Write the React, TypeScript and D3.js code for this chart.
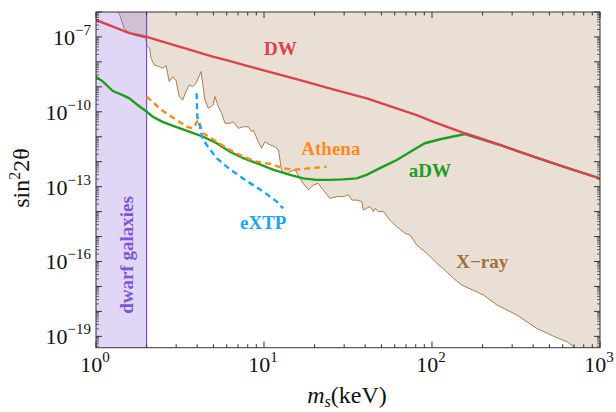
import React from "react";
import * as d3 from "d3";

// sterile neutrino mass (keV) and log10(sin^2 2theta)
const massDW = [1, 1.26, 1.58, 1.98, 2.49, 3.13, 3.94, 4.95, 6.22, 7.83, 16.4, 25.8, 40.9, 81.1, 102, 157, 254, 402, 631, 1000];
const logMixDW = [-6.32, -6.59, -6.85, -6.99, -7.19, -7.39, -7.59, -7.79, -7.96, -8.15, -8.73, -9.1, -9.46, -10.13, -10.4, -10.86, -11.33, -11.8, -12.24, -12.67];

const massADW = [1, 1.1, 1.26, 1.44, 1.58, 1.77, 1.98, 2.18, 2.49, 2.99, 3.76, 4.35, 5.23, 6.28, 7.53, 9.05, 11.4, 14.3, 17.1, 20.6, 24.7, 29.6, 35.6, 40.8, 49.0, 61.7, 77.4, 90.8, 112, 157, 254, 402, 631, 1000];
const logMixADW = [-8.59, -8.79, -9.17, -9.33, -9.46, -9.73, -9.97, -10.2, -10.4, -10.6, -10.84, -11.0, -11.26, -11.6, -11.86, -12.06, -12.33, -12.53, -12.67, -12.73, -12.73, -12.71, -12.67, -12.53, -12.26, -11.93, -11.53, -11.26, -11.1, -10.89, -11.33, -11.8, -12.24, -12.67];

const massAthena = [2.0, 2.46, 3.02, 3.47, 3.78, 4.06, 4.35, 5.23, 6.28, 7.53, 9.05, 10.9, 13.0, 14.9, 17.1, 20.6, 23.6];
const logMixAthena = [-9.39, -9.93, -10.33, -10.6, -10.66, -10.33, -10.86, -11.2, -11.53, -11.8, -12.0, -12.09, -12.26, -12.33, -12.29, -12.24, -12.2];

const massEXTP = [3.97, 4.01, 4.16, 4.27, 4.56, 5.23, 6.28, 7.89, 9.91, 11.9, 13.0];
const logMixEXTP = [-9.26, -10.2, -10.6, -11.01, -11.33, -11.86, -12.31, -12.77, -13.2, -13.6, -13.87];

const massXray = [1.35, 1.38, 1.47, 1.58, 1.73, 1.98, 2.0, 2.08, 2.13, 2.22, 2.38, 2.49, 2.61, 2.73, 2.86, 2.99, 3.13, 3.28, 3.43, 3.59, 3.76, 3.94, 4.22, 4.45, 4.66, 4.99, 5.11, 5.35, 5.6, 5.86, 6.28, 6.57, 7.03, 7.53, 8.07, 8.45, 8.64, 9.25, 9.69, 10.1, 10.9, 11.6, 12.2, 12.7, 13.6, 14.3, 15.3, 17.1, 18.4, 19.7, 21.0, 22.5, 24.7, 27.1, 29.6, 31.8, 33.3, 35.6, 38.2, 39.0, 40.8, 42.8, 44.8, 45.8, 47.9, 51.3, 56.2, 61.7, 69.1, 74.0, 81.1, 93.0, 107, 122, 134, 150, 202, 243, 319, 420, 527, 634, 710];
const logMixXray = [-6.0, -6.09, -6.65, -6.85, -6.95, -7.05, -7.32, -7.45, -7.86, -8.12, -8.19, -8.26, -8.15, -8.79, -8.59, -8.73, -9.39, -9.53, -9.19, -8.93, -8.99, -8.86, -8.39, -9.53, -9.86, -9.73, -9.39, -9.8, -10.06, -10.46, -10.46, -10.4, -10.66, -10.6, -10.6, -10.8, -10.73, -11.2, -11.46, -11.2, -11.33, -11.4, -11.53, -12.33, -12.53, -12.4, -12.33, -12.87, -13.13, -12.93, -12.87, -13.13, -13.47, -13.4, -13.4, -13.33, -13.54, -13.54, -13.6, -13.94, -13.87, -13.8, -14.0, -13.87, -14.0, -14.0, -14.34, -14.61, -14.87, -14.94, -15.34, -15.67, -16.07, -16.41, -16.67, -16.94, -17.34, -17.74, -18.14, -18.68, -18.99, -19.21, -19.46];

const dwarfMass = [1, 2];
const xTickExp = [0, 1, 2, 3];
const yTickExp = [-19, -16, -13, -10, -7];

const W = 616, H = 412;
const left = 96, right = 600, top = 12, bottom = 347.7;
const font = "Liberation Serif";

const x = d3.scaleLog().domain([1, 1000]).range([left, right]);
const y = d3.scaleLog().domain([Math.pow(10, -19.455), 1e-6]).range([bottom, top]);

const pts = (m: number[], l: number[]) => m.map((v, i) => [v, Math.pow(10, l[i])] as [number, number]);
const line = d3.line<[number, number]>().x(d => x(d[0])).y(d => y(d[1]));

export default function App() {
  const ymin = y.domain()[0], ymax = y.domain()[1];
  const xray = pts(massXray, logMixXray);
  const xrayArea = [[massXray[0], ymax] as [number, number], ...xray, [1000, ymin] as [number, number], [1000, ymax] as [number, number]];

  const xMinor: number[] = [];
  for (let d = 0; d < 3; d++) for (let k = 2; k <= 9; k++) xMinor.push(k * Math.pow(10, d));
  const yMajor = d3.range(-19, -5);
  const yMinor: number[] = [];
  for (let d = -20; d < -6; d++) for (let k = 2; k <= 9; k++) {
    const v = k * Math.pow(10, d);
    if (v > ymin && v < ymax) yMinor.push(v);
  }
  const tc = "#333";

  return (
    <svg width={W} height={H} style={{ position: "absolute", left: 0, top: 0, fontFamily: font }}>
      <defs>
        <clipPath id="plot"><rect x={left} y={top} width={right - left} height={bottom - top} /></clipPath>
      </defs>
      <g clipPath="url(#plot)">
        <path d={line(xrayArea) + "Z"} fill="#e9dfd5" />
        <path d={line(xray) || ""} fill="none" stroke="#a0703a" strokeWidth={0.9} />
        <rect x={x(dwarfMass[0])} y={top} width={x(dwarfMass[1]) - x(dwarfMass[0])} height={bottom - top} fill="rgba(140,110,220,0.28)" />
        <line x1={x(dwarfMass[1])} x2={x(dwarfMass[1])} y1={top} y2={bottom} stroke="#7a4de0" strokeWidth={1.2} />
        <path d={line(pts(massADW, logMixADW)) || ""} fill="none" stroke="#1e9e1e" strokeWidth={2.4} />
        <path d={line(pts(massAthena, logMixAthena)) || ""} fill="none" stroke="#ff8a1c" strokeWidth={2.4} strokeDasharray="6,4" />
        <path d={line(pts(massEXTP, logMixEXTP)) || ""} fill="none" stroke="#1ea4f5" strokeWidth={2.4} strokeDasharray="6,4" />
        <path d={line(pts(massDW, logMixDW)) || ""} fill="none" stroke="#d9434b" strokeWidth={2.4} />
      </g>

      {/* frame and ticks */}
      <rect x={left} y={top} width={right - left} height={bottom - top} fill="none" stroke={tc} strokeWidth={1} />
      {xTickExp.map(e => {
        const px = x(Math.pow(10, e));
        return <g key={"xt" + e}>
          <line x1={px} x2={px} y1={bottom} y2={bottom - 6} stroke={tc} />
          <line x1={px} x2={px} y1={top} y2={top + 6} stroke={tc} />
        </g>;
      })}
      {xMinor.map(v => <g key={"xm" + v}>
        <line x1={x(v)} x2={x(v)} y1={bottom} y2={bottom - 3.5} stroke={tc} />
        <line x1={x(v)} x2={x(v)} y1={top} y2={top + 3.5} stroke={tc} />
      </g>)}
      {yMajor.map(e => {
        const py = y(Math.pow(10, e));
        return <g key={"yt" + e}>
          <line x1={left} x2={left + 6} y1={py} y2={py} stroke={tc} />
          <line x1={right} x2={right - 6} y1={py} y2={py} stroke={tc} />
        </g>;
      })}
      {yMinor.map(v => <g key={"ym" + v}>
        <line x1={left} x2={left + 3} y1={y(v)} y2={y(v)} stroke={tc} strokeWidth={0.7} />
        <line x1={right} x2={right - 3} y1={y(v)} y2={y(v)} stroke={tc} strokeWidth={0.7} />
      </g>)}

      {xTickExp.map(e => (
        <text key={"xl" + e} x={x(Math.pow(10, e)) - 1} y={372} fontSize={22} textAnchor="middle" fill="#111">
          10<tspan dy={-10} fontSize={15}>{e}</tspan>
        </text>
      ))}
      {yTickExp.map(e => (
        <text key={"yl" + e} x={91} y={y(Math.pow(10, e)) + 8} fontSize={22} textAnchor="end" fill="#111">
          10<tspan dy={-10} fontSize={15}>{"\u2212" + Math.abs(e)}</tspan>
        </text>
      ))}

      {/* axis titles */}
      <text transform="translate(29,178) rotate(-90)" textAnchor="middle" fontSize={24} fill="#111">
        sin<tspan dy={-9} fontSize={16}>2</tspan><tspan dy={9}>2θ</tspan>
      </text>
      <text x={347} y={403} textAnchor="middle" fontSize={24} fill="#111">
        <tspan fontStyle="italic">m</tspan><tspan fontStyle="italic" fontSize={16} dy={4}>s</tspan><tspan dy={-4}>(keV)</tspan>
      </text>

      {/* curve labels */}
      <g fontWeight="bold" fontSize={19} textAnchor="middle">
        <text x={x(12.5)} y={y(Math.pow(10, -7.72))} fill="#d9434b">DW</text>
        <text x={x(25)} y={y(Math.pow(10, -11.73))} fill="#ff8a1c">Athena</text>
        <text x={x(97)} y={y(Math.pow(10, -12.61))} fill="#1e9e1e">aDW</text>
        <text x={x(9.9)} y={y(Math.pow(10, -14.7))} fill="#1ea4f5">eXTP</text>
        <text x={x(199)} y={y(Math.pow(10, -16.26))} fill="#a0703a">X{"\u2212"}ray</text>
        <text transform={`translate(${x(1.52) + 6},${y(Math.pow(10, -15.74))}) rotate(-90)`} fill="#7d55d6">dwarf galaxies</text>
      </g>
    </svg>
  );
}
